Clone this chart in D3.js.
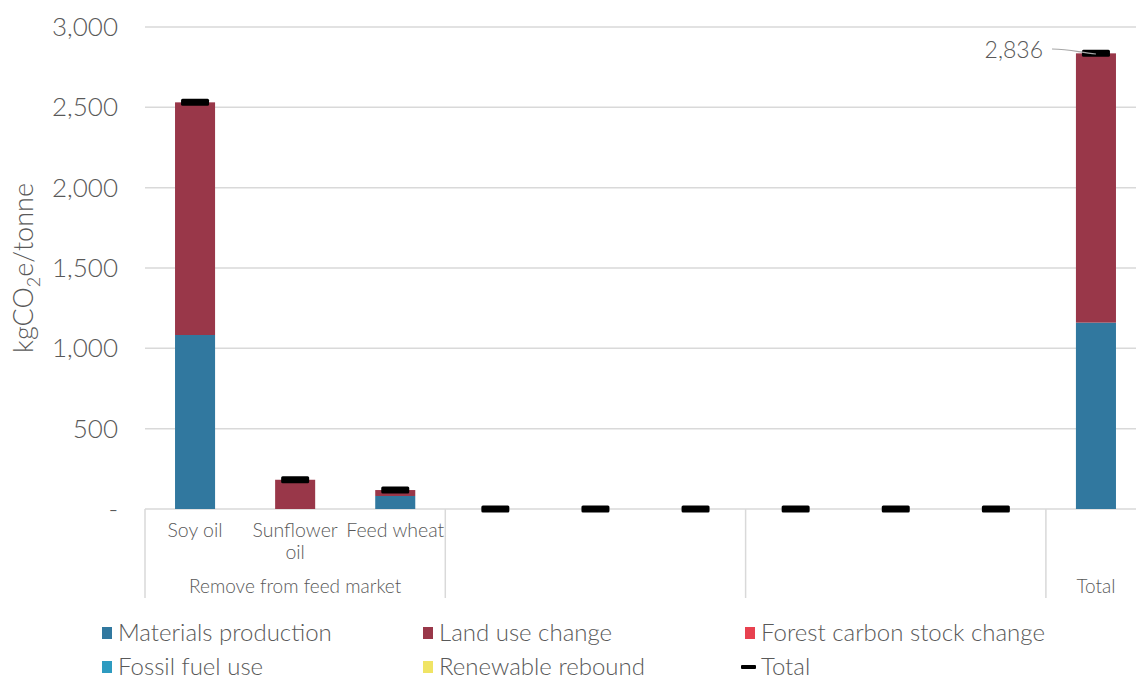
<!DOCTYPE html>
<html><head><meta charset="utf-8">
<script src="https://cdn.jsdelivr.net/npm/d3@7"></script>
<style>
body{margin:0;background:#fff;}
text{font-family:Lato,"Open Sans",sans-serif;font-weight:300;fill:#595959;}
</style></head>
<body><svg id="c" width="1136" height="684"></svg>
<script>
const categories = ["Soy oil","Sunflower oil","Feed wheat","","","","","","",""];
const categoryLines = [["Soy oil"],["Sunflower","oil"],["Feed wheat"],[],[],[],[],[],[],[]];
const groups = [
  {label:"Remove from feed market", start:0, end:2},
  {label:"", start:3, end:5},
  {label:"", start:6, end:8},
  {label:"Total", start:9, end:9}
];
const seriesNames = ["Materials production","Land use change","Forest carbon stock change","Fossil fuel use","Renewable rebound"];
const materialsProduction = [1083,0,81,0,0,0,0,0,0,1160];
const landUseChange       = [1448,182,37,0,0,0,0,0,0,1676];
const forestCarbonStock   = [0,0,0,0,0,0,0,0,0,0];
const fossilFuelUse       = [0,0,0,0,0,0,0,0,0,0];
const renewableRebound    = [0,0,0,0,0,0,0,0,0,0];
const totals              = [2531,182,118,0,0,0,0,0,0,2836];
const yTicks = [0,500,1000,1500,2000,2500,3000];
const colors = ["#31789f","#993749","#e8414f","#2e9bc0","#f0e465"];

const svg = d3.select("#c");
const x = d3.scaleBand().domain(d3.range(categories.length)).range([145,1146]).paddingInner(0.6).paddingOuter(0.3);
const xs = d3.scaleBand().domain(d3.range(categories.length)).range([145,1146]);
const y = d3.scaleLinear().domain([0,3000]).range([509,27]);

// gridlines
svg.append("g").selectAll("line").data(yTicks).join("line")
  .attr("x1",145).attr("x2",1136).attr("y1",d=>y(d)).attr("y2",d=>y(d))
  .attr("stroke","#d9d9d9").attr("stroke-width",1.5);

// y axis labels
const fmt = d3.format(",");
svg.append("g").selectAll("text").data(yTicks).join("text")
  .attr("x",118).attr("y",d=>y(d)).attr("dy","0.35em").attr("text-anchor","end")
  .style("font-size","26px").text(d=>d===0?"-":fmt(d));

// y title
const yt = svg.append("text").attr("transform","translate(33,268) rotate(-90)").attr("text-anchor","middle").style("font-size","27px");
yt.append("tspan").text("kgCO");
yt.append("tspan").attr("dy",7).style("font-size","18px").text("2");
yt.append("tspan").attr("dy",-7).text("e/tonne");

// stacked bars
const series = [materialsProduction,landUseChange,forestCarbonStock,fossilFuelUse,renewableRebound];
const rows = categories.map((c,i)=>{const o={i}; seriesNames.forEach((s,k)=>o[s]=series[k][i]); return o;});
const stacked = d3.stack().keys(seriesNames)(rows);
svg.append("g").selectAll("g").data(stacked).join("g").attr("fill",(d,k)=>colors[k])
  .selectAll("rect").data(d=>d).join("rect")
  .attr("x",d=>x(d.data.i)).attr("width",x.bandwidth())
  .attr("y",d=>y(d[1])).attr("height",d=>Math.max(0,y(d[0])-y(d[1])));

// total markers
svg.append("g").selectAll("rect").data(totals).join("rect")
  .attr("x",(d,i)=>xs(i)+xs.bandwidth()/2-14).attr("width",28)
  .attr("y",d=>y(d)-3.5).attr("height",7).attr("rx",1.5).attr("fill","#000");

// category axis separators
const sepX = groups.map(g=>xs(g.start));
svg.append("g").selectAll("line").data(sepX).join("line")
  .attr("x1",d=>d).attr("x2",d=>d).attr("y1",509).attr("y2",598)
  .attr("stroke","#d9d9d9").attr("stroke-width",1.5);

// category labels
categoryLines.forEach((lines,i)=>{
  lines.forEach((l,j)=>{
    svg.append("text").attr("x",xs(i)+xs.bandwidth()/2).attr("y",537+j*22)
      .attr("text-anchor","middle").style("font-size","19.5px").text(l);
  });
});
// group labels
svg.append("g").selectAll("text").data(groups).join("text")
  .attr("x",g=>(xs(g.start)+xs(g.end)+xs.bandwidth())/2).attr("y",593)
  .attr("text-anchor","middle").style("font-size","19px").text(g=>g.label);

// annotation
const ti = totals.length-1;
svg.append("path").attr("d",`M1052,49 C1072,49 1080,53 ${xs(ti)+xs.bandwidth()/2},54`)
  .attr("fill","none").attr("stroke","#a6a6a6").attr("stroke-width",1.2);
svg.append("text").attr("x",1043).attr("y",50).attr("dy","0.35em").attr("text-anchor","end")
  .style("font-size","23px").text(fmt(totals[ti]));

// legend
const legendItems = seriesNames.map((n,k)=>({name:n,color:colors[k],type:"sq"})).concat([{name:"Total",color:"#000",type:"dash"}]);
const legPos = [[102,633],[423,633],[745,633],[102,667],[423,667],[745,667]];
const lg = svg.append("g").selectAll("g").data(legendItems).join("g")
  .attr("transform",(d,i)=>`translate(${legPos[i][0]},${legPos[i][1]})`);
lg.append("rect").attr("x",d=>d.type==="dash"?-4:0).attr("y",d=>d.type==="dash"?-2:-6)
  .attr("width",d=>d.type==="dash"?15:10).attr("height",d=>d.type==="dash"?4:12)
  .attr("rx",d=>d.type==="dash"?1:0).attr("fill",d=>d.color);
lg.append("text").attr("x",16).attr("dy","0.35em").style("font-size","24px").text(d=>d.name);
</script></body></html>
